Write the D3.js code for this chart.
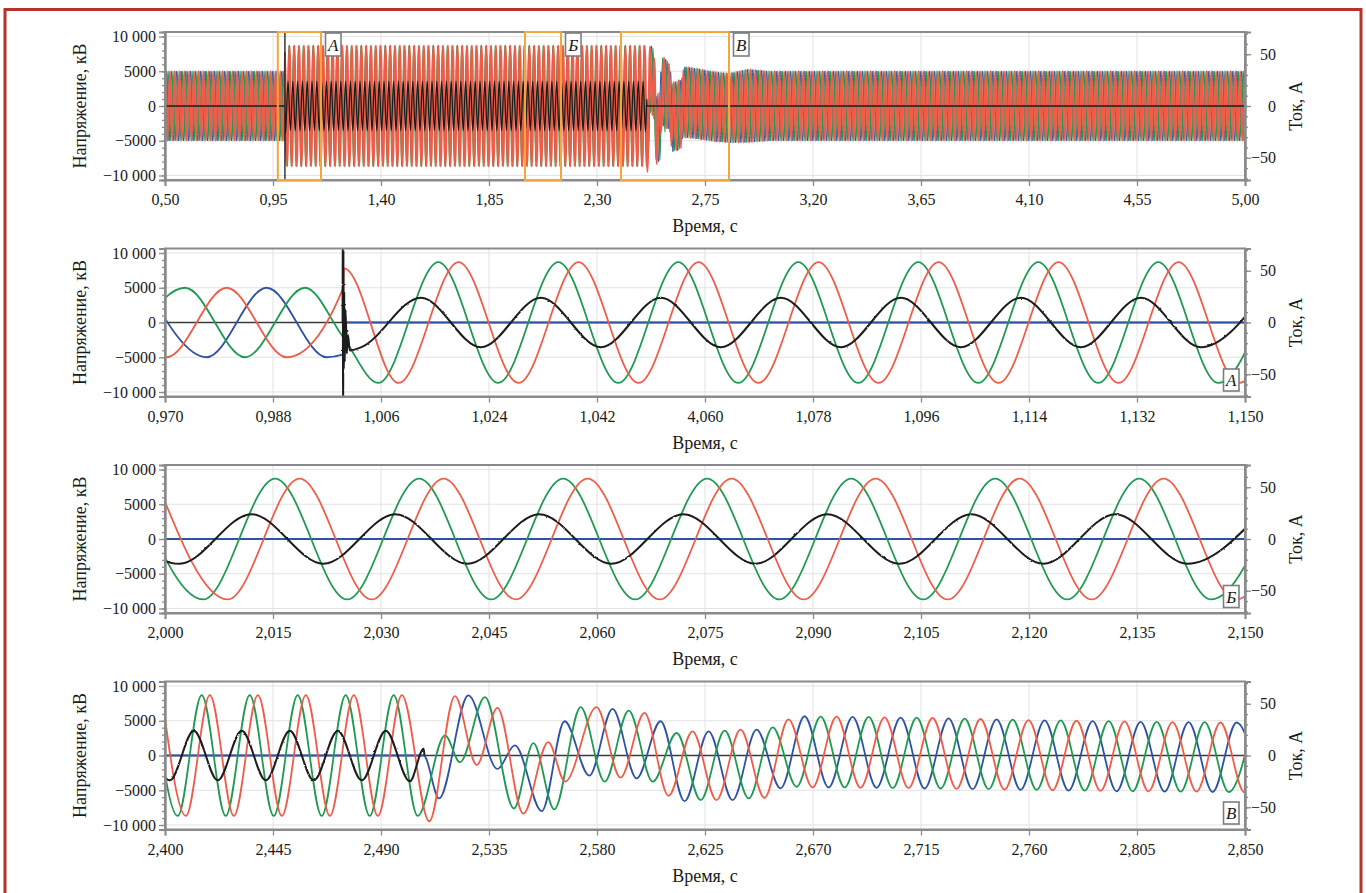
<!DOCTYPE html>
<html><head><meta charset="utf-8">
<script src="https://cdn.jsdelivr.net/npm/d3@7"></script>
<style>
body{margin:0;background:#fff;}
svg, svg text{font-family:"Liberation Serif", serif;}
</style></head><body>
<svg id="c" width="1366" height="893"></svg>
<script>
// ================= DATA =================
const PERIOD = 0.02; // 50 Hz
const panelDomains = [[0.5,5.0],[0.97,1.15],[2.0,2.15],[2.4,2.85]];
const tickLabels1 = ["0,50","0,95","1,40","1,85","2,30","2,75","3,20","3,65","4,10","4,55","5,00"];
const tickLabels2 = ["0,970","0,988","1,006","1,024","1,042","4,060","1,078","1,096","1,114","1,132","1,150"];
const tickLabels3 = ["2,000","2,015","2,030","2,045","2,060","2,075","2,090","2,105","2,120","2,135","2,150"];
const tickLabels4 = ["2,400","2,445","2,490","2,535","2,580","2,625","2,670","2,715","2,760","2,805","2,850"];
const voltTicks = [10000,5000,0,-5000,-10000];
const voltTickLabels = ["10 000","5000","0","\u22125000","\u221210 000"];
const currTicks = [50,0,-50];
const currTickLabels = ["50","0","\u221250"];
const zoomWindows = [["А",0.97,1.15],["Б",2.0,2.15],["В",2.4,2.85]];

// Panel A (0,970–1,150 s): extrema [time s, voltage] / current [time s, A]
const red2 = [[0.96028,5000],[0.97028,-5000],[0.98028,5000],[0.99028,-5000],[0.9997,4980],[0.99985,7800],[1.00893,-8700],[1.01893,8700],[1.02893,-8700],[1.03893,8700],[1.04893,-8700],[1.05893,8700],[1.06893,-8700],[1.07893,8700],[1.08893,-8700],[1.09893,8700],[1.10893,-8700],[1.11893,8700],[1.12893,-8700],[1.13893,8700],[1.14893,-8700],[1.15893,8700]];
const green2 = [[0.96333,-5000],[0.97333,5000],[0.98333,-5000],[0.99333,5000],[0.9997,-2100],[1.00555,-8700],[1.01555,8700],[1.02555,-8700],[1.03555,8700],[1.04555,-8700],[1.05555,8700],[1.06555,-8700],[1.07555,8700],[1.08555,-8700],[1.09555,8700],[1.10555,-8700],[1.11555,8700],[1.12555,-8700],[1.13555,8700],[1.14555,-8700],[1.15555,8700]];
const blue2 = [[0.96695,5000],[0.97695,-5000],[0.98695,5000],[0.99695,-5000],[0.9997,-4600],[0.99975,0],[1.16,0]];
const cur2 = [[0.9996,0],[0.99963,130],[0.99968,-130],[0.99974,70],[0.9998,-45],[0.99988,30],[0.99996,-38],[1.0001,12],[1.0003,-30],[1.0005,-12],[1.0008,-27],[1.00265,-24],[1.01265,24],[1.02265,-24],[1.03265,24],[1.04265,-24],[1.05265,24],[1.06265,-24],[1.07265,24],[1.08265,-24],[1.09265,24],[1.10265,-24],[1.11265,24],[1.12265,-24],[1.13265,24],[1.14265,-24],[1.15265,24]];

// Panel Б (2,000–2,150 s)
const red3 = [[1.9987,8700],[2.0087,-8700],[2.0187,8700],[2.0287,-8700],[2.0387,8700],[2.0487,-8700],[2.0587,8700],[2.0687,-8700],[2.0787,8700],[2.0887,-8700],[2.0987,8700],[2.1087,-8700],[2.1187,8700],[2.1287,-8700],[2.1387,8700],[2.1487,-8700],[2.1587,8700]];
const green3 = [[1.9953,8700],[2.0053,-8700],[2.0153,8700],[2.0253,-8700],[2.0353,8700],[2.0453,-8700],[2.0553,8700],[2.0653,-8700],[2.0753,8700],[2.0853,-8700],[2.0953,8700],[2.1053,-8700],[2.1153,8700],[2.1253,-8700],[2.1353,8700],[2.1453,-8700],[2.1553,8700]];
const blue3 = [[1.99,0],[2.16,0]];
const cur3 = [[1.9920,24],[2.0020,-24],[2.0120,24],[2.0220,-24],[2.0320,24],[2.0420,-24],[2.0520,24],[2.0620,-24],[2.0720,24],[2.0820,-24],[2.0920,24],[2.1020,-24],[2.1120,24],[2.1220,-24],[2.1320,24],[2.1420,-24],[2.1520,24]];

// Panel В (2,400–2,850 s)
const red4 = [[2.3987,8700],[2.4087,-8700],[2.4187,8700],[2.4287,-8700],[2.4387,8700],[2.4487,-8700],[2.4587,8700],[2.4687,-8700],[2.4787,8700],[2.4887,-8700],[2.4987,8700],[2.5101,-9470],[2.5208,8550],[2.5299,-1350],[2.5385,6860],[2.5493,-8360],[2.5597,1930],[2.5667,-3770],[2.5798,6960],[2.5898,-3190],[2.5998,6130],[2.6098,-5800],[2.6198,3480],[2.6298,-6420],[2.6398,3720],[2.6498,-6090],[2.6598,5200],[2.6698,-4600],[2.6798,5600],[2.6898,-4650],[2.6998,5500],[2.7098,-4700],[2.7198,5400],[2.7298,-4800],[2.7398,5250],[2.7498,-4900],[2.7598,5100],[2.7698,-5000],[2.7798,5000],[2.7898,-5100],[2.7998,4900],[2.8098,-5150],[2.8198,4800],[2.8298,-5200],[2.8398,4750],[2.8498,-5300],[2.8598,4700]];
const green4 = [[2.3953,8700],[2.4053,-8700],[2.4153,8700],[2.4253,-8700],[2.4353,8700],[2.4453,-8700],[2.4553,8700],[2.4653,-8700],[2.4753,8700],[2.4853,-8700],[2.4953,8700],[2.5053,-8700],[2.5167,2900],[2.5229,-970],[2.5333,8400],[2.5454,-7630],[2.5535,1790],[2.5622,-7750],[2.5732,6960],[2.5832,-3770],[2.5932,6470],[2.6032,-3770],[2.6132,3240],[2.6232,-6420],[2.6332,3580],[2.6432,-6180],[2.6532,4060],[2.6632,-4500],[2.6732,5600],[2.6832,-4600],[2.6932,5550],[2.7032,-4700],[2.7132,5450],[2.7232,-4750],[2.7332,5300],[2.7432,-4850],[2.7532,5150],[2.7632,-4950],[2.7732,5050],[2.7832,-5050],[2.7932,4950],[2.8032,-5150],[2.8132,4850],[2.8232,-5200],[2.8332,4800],[2.8432,-5250],[2.8532,4700]];
const blue4 = [[2.39,0],[2.5078,0],[2.5142,-6180],[2.5264,8650],[2.5385,-1930],[2.5458,1450],[2.5570,-8020],[2.5665,4930],[2.5768,-2900],[2.5865,6710],[2.5965,-3280],[2.6065,4930],[2.6165,-6570],[2.6265,3480],[2.6365,-6420],[2.6465,3720],[2.6565,-4730],[2.6665,5650],[2.6765,-4600],[2.6865,5550],[2.6965,-4650],[2.7065,5450],[2.7165,-4750],[2.7265,5350],[2.7365,-4850],[2.7465,5200],[2.7565,-4950],[2.7665,5050],[2.7765,-5050],[2.7865,4950],[2.7965,-5150],[2.8065,4850],[2.8165,-5200],[2.8265,4800],[2.8365,-5250],[2.8465,4750],[2.8565,-5300]];
const cur4 = [[2.3920,24],[2.4020,-24],[2.4120,24],[2.4220,-24],[2.4320,24],[2.4420,-24],[2.4520,24],[2.4620,-24],[2.4720,24],[2.4820,-24],[2.4920,24],[2.5020,-25],[2.5078,6.5],[2.5081,0]];

// Overview (0,50–5,00 s): steady-state stretches
// [series, from, to, time of a peak, peak value, trough value]  (null = use envelope)
const overviewSteady = [
  ["red",0.45,0.97,0.98028,5000,-5000],
  ["green",0.45,0.97,0.97333,5000,-5000],
  ["blue",0.45,0.97,0.98695,5000,-5000],
  ["red",1.15,2.0,1.01893,8700,-8700],
  ["green",1.15,2.0,1.01555,8700,-8700],
  ["cur",1.15,2.0,1.01265,24,-24],
  ["red",2.15,2.4,2.0187,8700,-8700],
  ["green",2.15,2.4,2.0153,8700,-8700],
  ["cur",2.15,2.4,2.0120,24,-24],
  ["red",2.85,5.05,2.8598,null,null],
  ["green",2.85,5.05,2.8532,null,null],
  ["blue",2.85,5.05,2.8465,null,null]
];
// envelope after 2,85 s: [time, peak, trough]
const postEnvelope = [[2.85,4700,-5300],[2.93,5300,-5250],[3.02,5000,-5000],[5.05,5000,-5000]];

// ================= DRAWING =================
const svg = d3.select("#c");
const FONT = "Liberation Serif";
const PL = 165, PR = 1245, PH = 148;
const panelTops = [32, 248.5, 465, 681.5];
const COL = {red:"#ef5d49", green:"#1f9a52", blue:"#2e53a5", cur:"#1c1c1c"};
const GRID = "#e2e2e2", AX = "#8a8a8a";

// jagged look of the measured current trace (rendering effect only)
const defs = svg.append("defs");
const jag = defs.append("filter").attr("id","jag").attr("filterUnits","userSpaceOnUse")
  .attr("x",0).attr("y",0).attr("width",1366).attr("height",893);
jag.append("feTurbulence").attr("type","fractalNoise").attr("baseFrequency","0.3 0.3")
  .attr("numOctaves",1).attr("seed",4).attr("result","n");
jag.append("feDisplacementMap").attr("in","SourceGraphic").attr("in2","n").attr("scale",2.2)
  .attr("xChannelSelector","R").attr("yChannelSelector","G");

svg.append("rect").attr("x",5).attr("y",9.5).attr("width",1356).attr("height",900)
  .attr("fill","none").attr("stroke","#b5332b").attr("stroke-width",3);

const envScale = (col) => d3.scaleLinear().domain(postEnvelope.map(d=>d[0])).range(postEnvelope.map(d=>d[col])).clamp(true);
const envPeak = envScale(1), envTrough = envScale(2);

function steadyPoints(from,to,firstPeak,peak,trough){
  const half = PERIOD/2, pts=[];
  const k0 = Math.floor((from-firstPeak)/half)-1, k1 = Math.ceil((to-firstPeak)/half)+1;
  for(let k=k0;k<=k1;k++){
    const t = firstPeak + k*half;
    if(t<from || t>=to) continue;
    const even = ((k%2)+2)%2===0;
    const p = peak==null ? envPeak(t) : peak;
    const tr = trough==null ? envTrough(t) : trough;
    pts.push([t, even ? p : tr]);
  }
  return pts;
}
const win = (arr,a,b) => arr.filter(d=>d[0]>=a && d[0]<b);
const st = (name, idx) => { const s = overviewSteady.filter(d=>d[0]===name)[idx]; return steadyPoints(s[1],s[2],s[3],s[4],s[5]); };

const overview = {
  blue: [...st("blue",0), ...win(blue2,0.97,1.15), ...win(blue4,2.4,2.85), ...st("blue",1)],
  green: [...st("green",0), ...win(green2,0.97,1.15), ...st("green",1), ...win(green3,2.0,2.15), ...st("green",2), ...win(green4,2.4,2.85), ...st("green",3)],
  red: [...st("red",0), ...win(red2,0.97,1.15), ...st("red",1), ...win(red3,2.0,2.15), ...st("red",2), ...win(red4,2.4,2.85), ...st("red",3)],
  cur: [[0.45,0], ...win(cur2,0.97,1.15), ...st("cur",0), ...win(cur3,2.0,2.15), ...st("cur",1), ...win(cur4,2.4,2.85), [5.05,0]]
};

const panels = [
  {series: overview, labels: tickLabels1, lw: {blue:1.0, green:1.3, red:2.1, cur:1.3}, jag:false},
  {series: {blue:blue2, green:green2, red:red2, cur:cur2}, labels: tickLabels2, lw: {blue:1.8, green:1.8, red:1.8, cur:2.0}, tag:"А", jag:true},
  {series: {blue:blue3, green:green3, red:red3, cur:cur3}, labels: tickLabels3, lw: {blue:1.8, green:1.8, red:1.8, cur:2.0}, tag:"Б", jag:true},
  {series: {blue:blue4, green:green4, red:red4, cur:cur4}, labels: tickLabels4, lw: {blue:1.8, green:1.8, red:1.8, cur:2.0}, tag:"В", jag:true}
];

function txt(sel, size, italic){
  sel.style("font-family", FONT).style("font-size", size+"px").style("fill","#1a1a1a");
  if(italic) sel.style("font-style","italic");
  return sel;
}

panels.forEach((p,i)=>{
  const top = panelTops[i], bot = top+PH;
  const dom = panelDomains[i];
  const x = d3.scaleLinear().domain(dom).range([PL,PR]);
  const yV = d3.scaleLinear().domain([-10650,10650]).range([bot,top]);
  const yC = d3.scaleLinear().domain([-71.5,71.5]).range([bot,top]);
  const xt = d3.range(11).map(k=>dom[0]+k*(dom[1]-dom[0])/10);
  const g = svg.append("g");

  g.append("g").selectAll("line").data(xt.slice(1,-1)).join("line")
    .attr("x1",d=>x(d)).attr("x2",d=>x(d)).attr("y1",top).attr("y2",bot)
    .attr("stroke",GRID).attr("stroke-width",1);
  g.append("g").selectAll("line").data([10000,5000,-5000,-10000]).join("line")
    .attr("x1",PL).attr("x2",PR).attr("y1",d=>yV(d)).attr("y2",d=>yV(d))
    .attr("stroke",GRID).attr("stroke-width",1);
  g.append("line").attr("x1",PL).attr("x2",PR).attr("y1",yV(0)).attr("y2",yV(0))
    .attr("stroke","#3a3a3a").attr("stroke-width",1.6);

  const cid = "clip"+i;
  svg.append("clipPath").attr("id",cid).append("rect")
    .attr("x",PL).attr("y",top).attr("width",PR-PL).attr("height",PH);
  const plot = g.append("g").attr("clip-path",`url(#${cid})`);
  const lineV = d3.line().x(d=>x(d[0])).y(d=>yV(d[1])).curve(d3.curveMonotoneX);
  const lineC = d3.line().x(d=>x(d[0])).y(d=>yC(d[1])).curve(d3.curveMonotoneX);
  ["blue","green","red"].forEach(k=>{
    plot.append("path").datum(p.series[k]).attr("d",lineV)
      .attr("fill","none").attr("stroke",COL[k]).attr("stroke-width",p.lw[k]).attr("stroke-linejoin","round");
  });
  const cg = plot.append("g");
  if(p.jag) cg.attr("filter","url(#jag)");
  cg.append("path").datum(p.series.cur).attr("d",lineC)
    .attr("fill","none").attr("stroke",COL.cur).attr("stroke-width",p.lw.cur).attr("stroke-linejoin","round");

  g.append("rect").attr("x",PL).attr("y",top).attr("width",PR-PL).attr("height",PH)
    .attr("fill","none").attr("stroke",AX).attr("stroke-width",2);

  const style = (a)=>{
    a.attr("font-family",null).attr("font-size",null);
    a.select(".domain").attr("stroke",AX).attr("stroke-width",2);
    a.selectAll(".tick line").attr("stroke",AX).attr("stroke-width",1.3);
    txt(a.selectAll("text"),16);
  };
  g.append("g").attr("transform",`translate(${PL},0)`)
    .call(d3.axisLeft(yV).tickValues(d3.range(-10000,10001,1000)).tickSize(3).tickFormat(""))
    .call(style);
  g.append("g").attr("transform",`translate(${PL},0)`)
    .call(d3.axisLeft(yV).tickValues(voltTicks).tickSize(6).tickPadding(3).tickFormat((d,j)=>voltTickLabels[j]))
    .call(style);
  g.append("g").attr("transform",`translate(${PR},0)`)
    .call(d3.axisRight(yC).tickValues(d3.range(-70,71,10)).tickSize(3).tickFormat(""))
    .call(style);
  const ra = g.append("g").attr("transform",`translate(${PR},0)`)
    .call(d3.axisRight(yC).tickValues(currTicks).tickSize(6).tickFormat((d,j)=>currTickLabels[j]))
    .call(style);
  ra.selectAll("text").attr("text-anchor","end").attr("x",31);
  g.append("g").attr("transform",`translate(0,${bot})`)
    .call(d3.axisBottom(x).tickValues(xt).tickSize(6).tickPadding(8).tickFormat((d,j)=>p.labels[j]))
    .call(style);

  txt(g.append("text").attr("transform",`translate(86,${top+PH/2}) rotate(-90)`)
    .attr("text-anchor","middle"),18).text("Напряжение, кВ");
  txt(g.append("text").attr("transform",`translate(1302,${top+PH/2}) rotate(-90)`)
    .attr("text-anchor","middle"),18).text("Ток, А");
  txt(g.append("text").attr("x",(PL+PR)/2).attr("y",bot+52)
    .attr("text-anchor","middle"),18).text("Время, с");

  if(p.tag){
    const bw=15.5, bh=22, bx=PR-6-bw, by=bot-5.5-bh;
    g.append("rect").attr("x",bx).attr("y",by).attr("width",bw).attr("height",bh)
      .attr("fill","#fff").attr("stroke","#7d7d7d").attr("stroke-width",1.6);
    txt(g.append("text").attr("x",bx+bw/2).attr("y",by+bh/2+6).attr("text-anchor","middle"),17,true).text(p.tag);
  }

  if(i===0){
    zoomWindows.forEach(([lab,t0,t1])=>{
      g.append("rect").attr("x",x(t0)).attr("y",top).attr("width",x(t1)-x(t0)).attr("height",PH)
        .attr("fill","none").attr("stroke","#f4a53c").attr("stroke-width",2);
      const bw=15.5, bh=23, bx=x(t1)+4.5, by=top+1;
      g.append("rect").attr("x",bx).attr("y",by).attr("width",bw).attr("height",bh)
        .attr("fill","#fff").attr("stroke","#7d7d7d").attr("stroke-width",1.6);
      txt(g.append("text").attr("x",bx+bw/2).attr("y",by+bh/2+6).attr("text-anchor","middle"),17,true).text(lab);
    });
  }
});
</script>
</body></html>
